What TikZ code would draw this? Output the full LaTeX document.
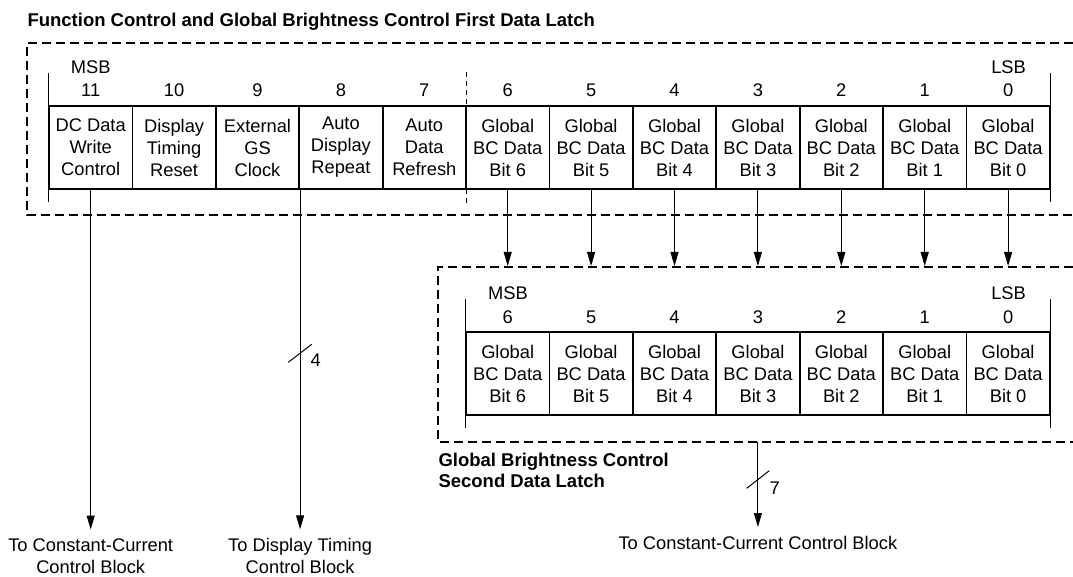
\documentclass[tikz,border=0pt]{standalone}
\usepackage{fontspec}
\setmainfont{Liberation Sans}
\usetikzlibrary{arrows.meta}

\begin{document}
\begin{tikzpicture}[
                x=1pt,y=-1pt,
                font=\fontsize{18.3}{22}\selectfont,
                line width=1pt,
                bitcell/.style={draw,line width=1.8pt,align=center,minimum width=83.4pt,minimum height=83pt,inner sep=0pt},
                bitnum/.style={inner sep=0pt},
                latch/.style={line width=1.8pt,dash pattern=on 9pt off 5pt},
                divider/.style={line width=1pt,dash pattern=on 5pt off 4pt},
                bus/.style={line width=1pt,-{Triangle[length=14pt,width=8pt]}},
                boldlabel/.style={font=\fontsize{18.5}{21}\selectfont\bfseries,align=left,inner sep=0pt},
                outlabel/.style={align=center,inner sep=2pt,outer sep=7pt}] %

\useasboundingbox (0,0) rectangle (1073,577);

% 1
\node[boldlabel,anchor=west] (title1) at (27,22) {Function Control and Global Brightness Control First Data Latch};
\draw[latch] (1073,43) -| (27,215) -- (1073,215);

\node[bitnum] (msb1) at (90.7,67) {MSB};
\node[bitnum] (lsb1) at (1008.6,67) {LSB};

\foreach \b/\txt [count=\i from 0] in {11/{DC Data\\Write\\Control},10/{Display\\Timing\\Reset},9/{External\\GS\\Clock},8/{Auto\\Display\\Repeat},7/{Auto\\Data\\Refresh}} {
    \node[bitcell] (f\b) at (90.7+83.4*\i,147.5) {\txt};
    \node[bitnum] (fn\b) at (90.7+83.4*\i,90) {\b};
}
\foreach \b in {6,5,...,0} {
    \node[bitcell] (f\b) at (90.7+83.4*11-83.4*\b,147.5) {Global\\BC Data\\Bit \b};
    \node[bitnum] (fn\b) at (90.7+83.4*11-83.4*\b,90) {\b};
}

\draw ([yshift=32pt]f11.north west) -- ([yshift=-12pt]f11.south west);
\draw ([yshift=32pt]f0.north east) -- ([yshift=-12pt]f0.south east);
\draw[divider] ([yshift=33pt]f7.north east) -- ([yshift=-13pt]f7.south east);

% 2
\draw[latch] (1073,267) -| (438,442) -- (1073,442);
\node[boldlabel,anchor=north west] (title2) at (438,453) {Global Brightness Control\\Second Data Latch};

\node[bitnum] (msb2) at (508,293) {MSB};
\node[bitnum] (lsb2) at (1008.6,293) {LSB};

\foreach \b in {6,5,...,0} {
    \node[bitcell] (s\b) at (f\b |- 0,373.5) {Global\\BC Data\\Bit \b};
    \node[bitnum] (sn\b) at (f\b |- 0,317) {\b};
    \coordinate (t\b) at (f\b |- 0,266);
    \draw[bus] (f\b) -- (t\b);
}

\draw ([yshift=32pt]s6.north west) -- ([yshift=-12pt]s6.south west);
\draw ([yshift=32pt]s0.north east) -- ([yshift=-12pt]s0.south east);

% outputs
\node[outlabel] (out1) at (f11 |- 0,556) {To Constant-Current\\Control Block};
\node[outlabel] (out2) at (f9.south east |- 0,556) {To Display Timing\\Control Block};
\node[outlabel,anchor=north] (out3) at (s3 |- 0,527) {To Constant-Current Control Block};

\draw[bus] (f11) -- (out1);
\draw[bus] (f9.south east) -- (out2);

\coordinate (b3) at (s3 |- 0,442);
\draw[bus] (b3) -- (out3);

% bus widths
\draw (288.3,362.3) -- (311.7,344.3);
\node[bitnum,anchor=west] (w4) at (310,360.7) {4};
\draw (746.7,488.3) -- (769.3,470.7);
\node[bitnum,anchor=west] (w7) at (769,488) {7};

\end{tikzpicture}
\end{document}
